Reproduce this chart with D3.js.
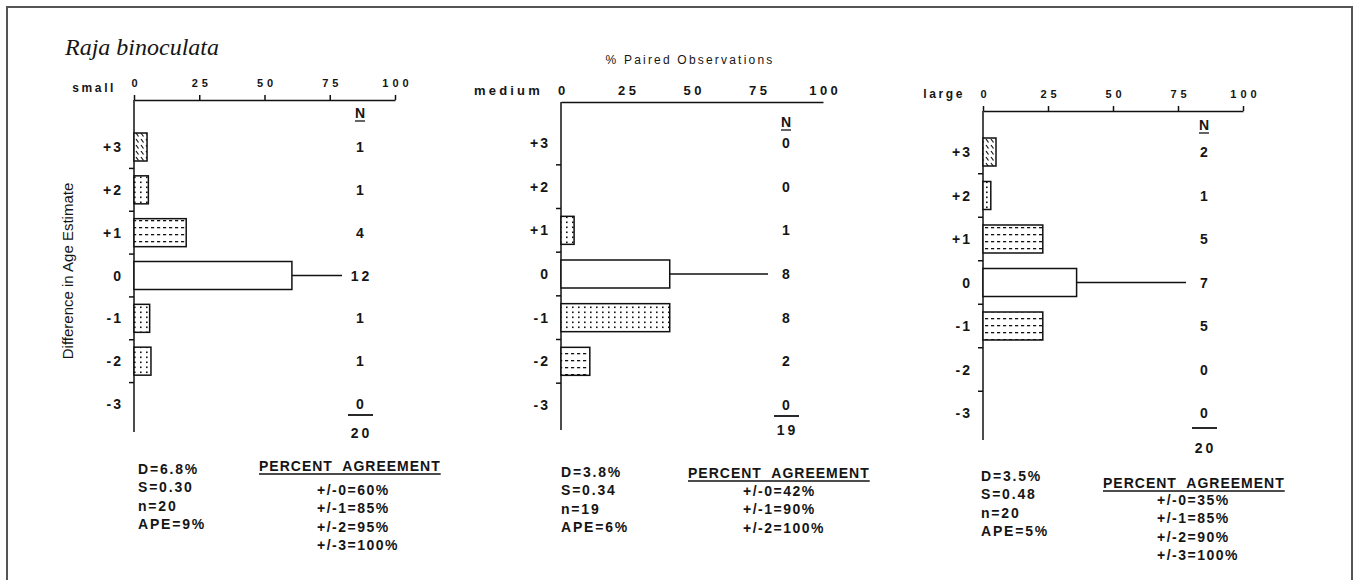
<!DOCTYPE html>
<html>
<head>
<meta charset="utf-8">
<script src="https://cdn.jsdelivr.net/npm/d3@7"></script>
<style>
  body { margin: 0; background: #fff; }
  svg text { fill: #151515; font-family: "Liberation Sans", Arial, Helvetica, sans-serif; }
  .bold { font-weight: bold; }
</style>
</head>
<body>
<div class="chart"></div>
<script>
// ---- data ----
var categories = ["+3", "+2", "+1", "0", "-1", "-2", "-3"];
var tickValues = [0, 25, 50, 75, 100];

// bar lengths (% paired observations) as drawn
var smallPct = [5, 5.5, 20, 60.5, 6, 6.5, 0];
var mediumPct = [0, 0, 5, 41.5, 41.5, 11, 0];
var largePct = [5, 3, 23, 36, 23, 0, 0];

// N column
var smallN = [1, 1, 4, 12, 1, 1, 0];
var mediumN = [0, 0, 1, 8, 8, 2, 0];
var largeN = [2, 1, 5, 7, 5, 0, 0];
var totals = [20, 19, 20];

var sizeNames = ["small", "medium", "large"];

var smallStats = ["D=6.8%", "S=0.30", "n=20", "APE=9%"];
var mediumStats = ["D=3.8%", "S=0.34", "n=19", "APE=6%"];
var largeStats = ["D=3.5%", "S=0.48", "n=20", "APE=5%"];

var smallAgree = ["+/-0=60%", "+/-1=85%", "+/-2=95%", "+/-3=100%"];
var mediumAgree = ["+/-0=42%", "+/-1=90%", "+/-2=100%"];
var largeAgree = ["+/-0=35%", "+/-1=85%", "+/-2=90%", "+/-3=100%"];

// ---- layout ----
var svgWidth = 1361, svgHeight = 580;

var svg = d3.select(".chart").append("svg")
    .attr("width", svgWidth)
    .attr("height", svgHeight);

// fill patterns
var defs = svg.append("defs");

var hatch = defs.append("pattern").attr("id", "hatch")
    .attr("patternUnits", "userSpaceOnUse").attr("width", 5).attr("height", 6);
hatch.append("line").attr("x1", 1).attr("y1", 1).attr("x2", 3.5).attr("y2", 4.5)
    .attr("stroke", "#111").attr("stroke-width", 1.2);

var dots = defs.append("pattern").attr("id", "dots")
    .attr("patternUnits", "userSpaceOnUse").attr("width", 6).attr("height", 5);
dots.append("rect").attr("x", 2).attr("y", 1.5).attr("width", 1.6).attr("height", 1.6).attr("fill", "#111");

var dashes = defs.append("pattern").attr("id", "dashes")
    .attr("patternUnits", "userSpaceOnUse").attr("width", 6).attr("height", 7);
dashes.append("rect").attr("x", 1).attr("y", 3).attr("width", 3.2).attr("height", 1.3).attr("fill", "#111");

// frame
svg.append("path")
    .attr("d", "M7,580 L7,7 L1352,7 L1352,580")
    .attr("fill", "none").attr("stroke", "#555").attr("stroke-width", 2);

// title
svg.append("text")
    .attr("x", 65).attr("y", 55)
    .style("font-family", "'Liberation Serif', 'Times New Roman', serif")
    .style("font-style", "italic")
    .style("font-size", "24px")
    .text("Raja binoculata");

svg.append("text")
    .attr("x", 690).attr("y", 64)
    .attr("text-anchor", "middle")
    .style("font-size", "12px")
    .style("letter-spacing", "2.2px")
    .text("% Paired Observations");

svg.append("text")
    .attr("transform", "translate(73, 271) rotate(-90)")
    .attr("text-anchor", "middle")
    .style("font-size", "15px")
    .text("Difference in Age Estimate");

// per-panel geometry and fills
var panels = [
    { pct: smallPct, n: smallN, stats: smallStats, agree: smallAgree,
      x0: 134, x1: 395, yTop: 100, yBottom: 432, c0: 147, c1: 404,
      nX: 360, nHeadY: 118, sumY: 415, totY: 438, tickY: 87, tickSize: 5, tickFont: 11, tickSp: 4,
      nameY: 92, statsX: 138, statsY: 474, headX: 259, headY: 471, agreeX: 317, agreeY: 495,
      fills: ["hatch", "dots", "dashes", null, "dots", "dots", null] },
    { pct: mediumPct, n: mediumN, stats: mediumStats, agree: mediumAgree,
      x0: 561, x1: 823, yTop: 102, yBottom: 430, c0: 143, c1: 405,
      nX: 786, nHeadY: 127, sumY: 416, totY: 435, tickY: 95, tickSize: 0, tickFont: 13, tickSp: 3.5,
      nameY: 95, statsX: 561, statsY: 477, headX: 688, headY: 478, agreeX: 743, agreeY: 496,
      fills: [null, null, "dots", null, "dots", "dashes", null] },
    { pct: largePct, n: largeN, stats: largeStats, agree: largeAgree,
      x0: 983, x1: 1243, yTop: 111, yBottom: 440, c0: 152, c1: 413,
      nX: 1204, nHeadY: 130, sumY: 428, totY: 453, tickY: 98, tickSize: 5, tickFont: 11, tickSp: 4,
      nameY: 98, statsX: 981, statsY: 481, headX: 1103, headY: 488, agreeX: 1157, agreeY: 505,
      fills: ["hatch", "dots", "dashes", null, "dashes", null, null] }
];

panels.forEach(function (p, i) {
    var g = svg.append("g");

    var x = d3.scaleLinear().domain([0, 100]).range([p.x0, p.x1]);
    var y = d3.scalePoint().domain(categories).range([p.c0, p.c1]);
    var step = y.step();
    var barH = 28;

    // top axis
    var axis = g.append("g")
        .attr("transform", `translate(0, ${p.yTop})`)
        .call(d3.axisTop(x).tickValues(tickValues).tickSize(p.tickSize).tickSizeOuter(0));
    axis.select(".domain").attr("stroke", "#111").attr("stroke-width", 1.5);
    axis.selectAll(".tick line").attr("stroke", "#111").attr("stroke-width", 1.5);
    axis.selectAll(".tick text")
        .attr("y", p.tickY - p.yTop)
        .attr("dy", 0)
        .attr("dx", p.tickSp / 2)
        .attr("class", "bold")
        .style("font-size", p.tickFont + "px")
        .style("letter-spacing", p.tickSp + "px")
        .style("font-family", "'Liberation Sans', Arial, sans-serif")
        .attr("fill", "#151515");

    g.append("text")
        .attr("class", "bold")
        .attr("x", p.x0 - 18).attr("y", p.nameY)
        .attr("text-anchor", "end")
        .style("font-size", (i === 1 ? 13 : 12) + "px")
        .style("letter-spacing", (i === 1 ? 3.2 : 2.6) + "px")
        .text(sizeNames[i]);

    // left axis with ticks between categories
    g.append("line")
        .attr("x1", p.x0).attr("x2", p.x0)
        .attr("y1", p.yTop).attr("y2", p.yBottom)
        .attr("stroke", "#111").attr("stroke-width", 1.5);

    g.selectAll(".ytick")
        .data(categories.slice(1))
        .enter().append("line")
        .attr("x1", p.x0 - 5).attr("x2", p.x0)
        .attr("y1", d => y(d) - step / 2)
        .attr("y2", d => y(d) - step / 2)
        .attr("stroke", "#111").attr("stroke-width", 1.5);

    g.selectAll(".ylab")
        .data(categories)
        .enter().append("text")
        .attr("class", "bold")
        .attr("x", p.x0 - 11)
        .attr("y", d => y(d) + 5)
        .attr("text-anchor", "end")
        .style("font-size", "14px")
        .style("letter-spacing", "2px")
        .text(d => d);

    // bars
    var bars = categories.map((c, k) => ({ cat: c, pct: p.pct[k], fill: p.fills[k] }))
        .filter(d => d.pct > 0);

    g.selectAll(".bar")
        .data(bars)
        .enter().append("rect")
        .attr("x", x(0))
        .attr("y", d => y(d.cat) - barH / 2)
        .attr("width", d => x(d.pct) - x(0))
        .attr("height", barH)
        .attr("fill", "#fff");

    g.selectAll(".barfill")
        .data(bars)
        .enter().append("rect")
        .attr("x", x(0))
        .attr("y", d => y(d.cat) - barH / 2)
        .attr("width", d => x(d.pct) - x(0))
        .attr("height", barH)
        .attr("fill", d => d.fill ? `url(#${d.fill})` : "none")
        .attr("stroke", "#111")
        .attr("stroke-width", 1.5);

    // leader line from the 0 bar to its N
    g.append("line")
        .attr("x1", x(p.pct[3])).attr("x2", p.nX - 18)
        .attr("y1", y("0")).attr("y2", y("0"))
        .attr("stroke", "#111").attr("stroke-width", 1.5);

    // N column
    g.append("text")
        .attr("class", "bold")
        .attr("x", p.nX).attr("y", p.nHeadY)
        .attr("text-anchor", "middle")
        .style("font-size", "14px")
        .text("N");
    g.append("line")
        .attr("x1", p.nX - 5).attr("x2", p.nX + 5)
        .attr("y1", p.nHeadY + 3).attr("y2", p.nHeadY + 3)
        .attr("stroke", "#111").attr("stroke-width", 1.3);

    g.selectAll(".nval")
        .data(p.n)
        .enter().append("text")
        .attr("class", "bold")
        .attr("x", p.nX + 1.5)
        .attr("y", (d, k) => y(categories[k]) + 5)
        .attr("text-anchor", "middle")
        .style("font-size", "14px")
        .style("letter-spacing", "3px")
        .text(d => d);

    g.append("line")
        .attr("x1", p.nX - 12).attr("x2", p.nX + 13)
        .attr("y1", p.sumY).attr("y2", p.sumY)
        .attr("stroke", "#111").attr("stroke-width", 1.8);

    g.append("text")
        .attr("class", "bold")
        .attr("x", p.nX + 1.5).attr("y", p.totY)
        .attr("text-anchor", "middle")
        .style("font-size", "14px")
        .style("letter-spacing", "3px")
        .text(totals[i]);

    // statistics
    g.selectAll(".stat")
        .data(p.stats)
        .enter().append("text")
        .attr("class", "bold")
        .attr("x", p.statsX)
        .attr("y", (d, k) => p.statsY + k * 18.3)
        .style("font-size", "14px")
        .style("letter-spacing", "1.8px")
        .text(d => d);

    var head = g.append("text")
        .attr("class", "bold")
        .attr("x", p.headX).attr("y", p.headY)
        .style("font-size", "14px")
        .style("letter-spacing", "1px")
        .style("word-spacing", "5px")
        .text("PERCENT AGREEMENT");
    var hw = head.node().getComputedTextLength();
    g.append("line")
        .attr("x1", p.headX).attr("x2", p.headX + hw)
        .attr("y1", p.headY + 3).attr("y2", p.headY + 3)
        .attr("stroke", "#111").attr("stroke-width", 1.3);

    g.selectAll(".agree")
        .data(p.agree)
        .enter().append("text")
        .attr("class", "bold")
        .attr("x", p.agreeX)
        .attr("y", (d, k) => p.agreeY + k * 18.3)
        .style("font-size", "14px")
        .style("letter-spacing", "1.5px")
        .text(d => d);
});
</script>
</body>
</html>
